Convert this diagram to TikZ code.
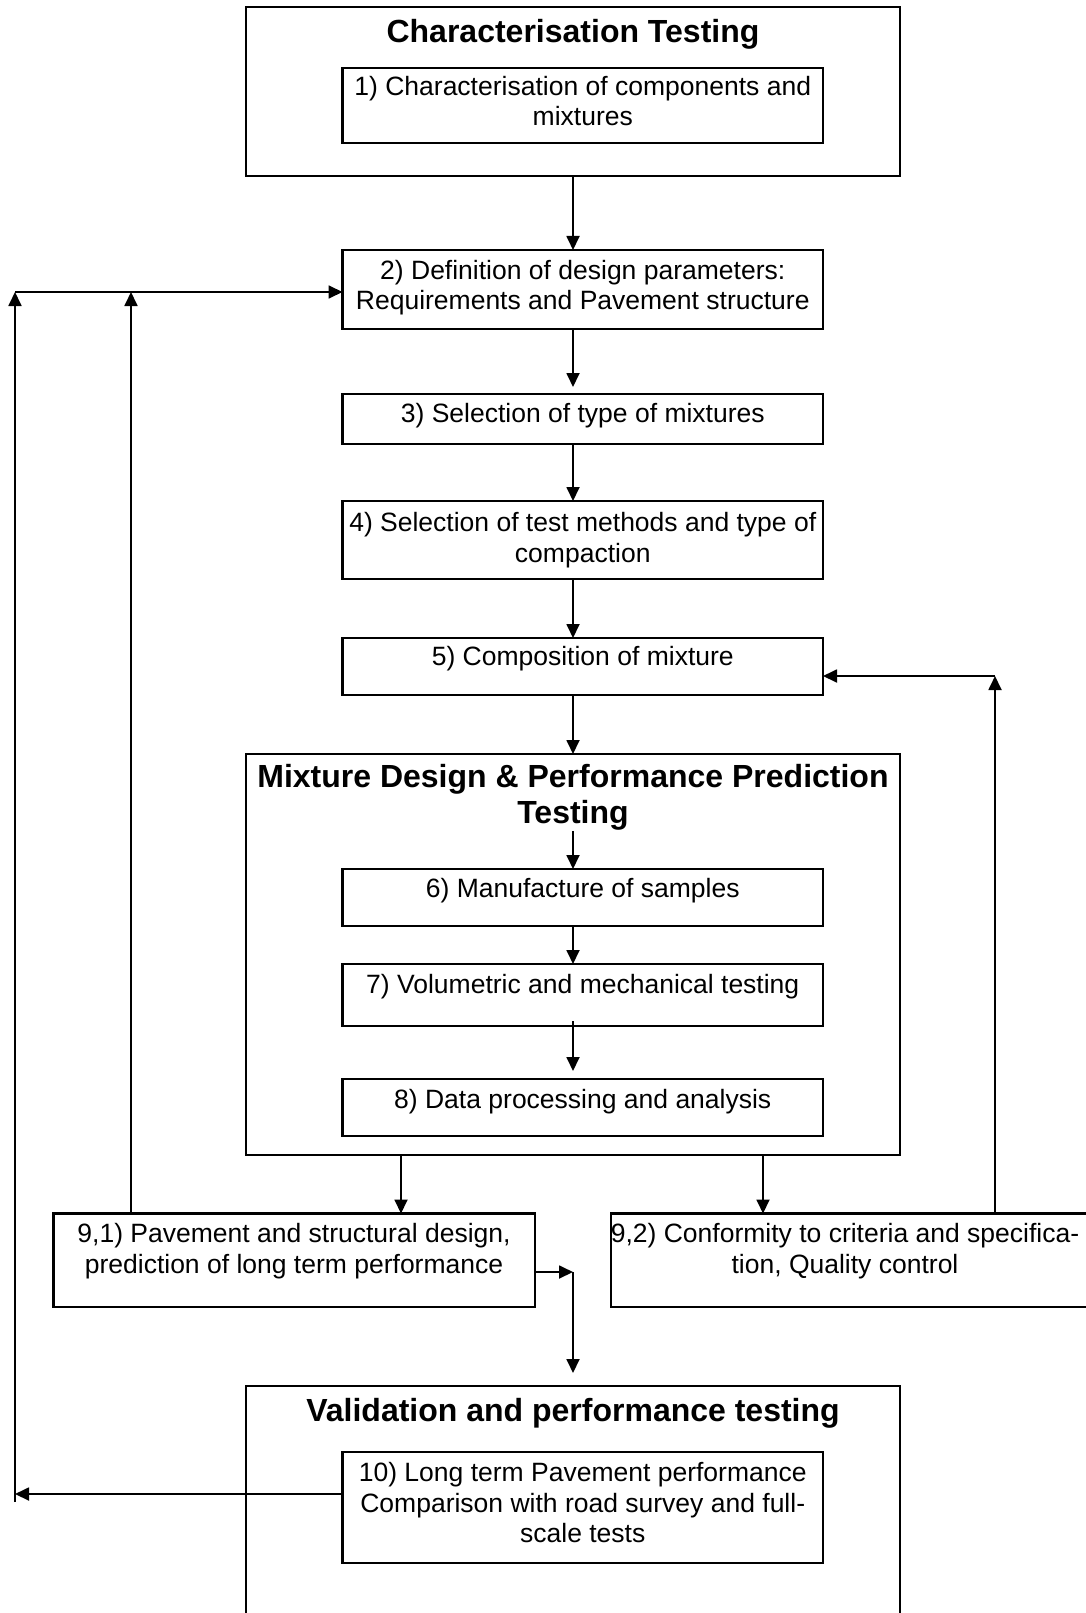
\documentclass[tikz,border=0pt]{standalone}
\usepackage{fontspec}
\setmainfont{Liberation Sans}
\usetikzlibrary{arrows.meta,calc}
\begin{document}
\begin{tikzpicture}[x=1pt,y=-1pt,
  box/.style={draw, line width=2.8pt, rectangle, inner sep=0pt, outer sep=0pt, anchor=north west},
  txt/.style={font=\fontsize{26.5}{30.5}\selectfont, align=center, inner sep=0pt, anchor=north},
  ttl/.style={font=\fontsize{32}{36}\selectfont\bfseries, align=center, inner sep=0pt, anchor=north},
  conn/.style={line width=1.8pt, -{Triangle[length=14pt,width=13pt]}}]
\useasboundingbox (0,0) rectangle (1086,1613);
\clip (0,0) rectangle (1086,1613);

% boxes
\node[box, minimum width=654pt, minimum height=169pt] (A) at (246,7) {};
\node[box, minimum width=480.5pt, minimum height=75pt] (B1) at (342.5,68) {};
\node[box, minimum width=480.5pt, minimum height=79pt] (B2) at (342.5,250) {};
\node[box, minimum width=480.5pt, minimum height=50pt] (B3) at (342.5,394) {};
\node[box, minimum width=480.5pt, minimum height=78pt] (B4) at (342.5,501) {};
\node[box, minimum width=480.5pt, minimum height=57pt] (B5) at (342.5,638) {};
\node[box, minimum width=654pt, minimum height=401pt] (B) at (246,754) {};
\node[box, minimum width=480.5pt, minimum height=57pt] (B6) at (342.5,869) {};
\node[box, minimum width=480.5pt, minimum height=62pt] (B7) at (342.5,964) {};
\node[box, minimum width=480.5pt, minimum height=57pt] (B8) at (342.5,1079) {};
\node[box, minimum width=481.5pt, minimum height=93.5pt] (B91) at (53.5,1213.5) {};
\node[box, minimum width=500pt, minimum height=93.5pt] (B92) at (611,1213.5) {};
\node[box, minimum width=654pt, minimum height=260pt] (C) at (246,1386) {};
\node[box, minimum width=480.5pt, minimum height=111pt] (B10) at (342.5,1452) {};

% texts
\node[ttl] (tA) at (573,19.5) {Characterisation Testing};
\node[txt] (t1) at (582.75,76) {1) Characterisation of components and\\mixtures};
\node[txt] (t2) at (582.75,260) {2) Definition of design parameters:\\Requirements and Pavement structure};
\node[txt] (t3) at (582.75,403.5) {3) Selection of type of mixtures};
\node[txt] (t4) at (582.75,512.5) {4) Selection of test methods and type of\\compaction};
\node[txt] (t5) at (582.75,646.5) {5) Composition of mixture};
\node[ttl] (tB) at (573,764.5) {Mixture Design \& Performance Prediction\\Testing};
\node[txt] (t6) at (582.75,878) {6) Manufacture of samples};
\node[txt] (t7) at (582.75,974.5) {7) Volumetric and mechanical testing};
\node[txt] (t8) at (582.75,1089.5) {8) Data processing and analysis};
\node[txt] (t91) at (294,1223.5) {9,1) Pavement and structural design,\\prediction of long term performance};
\node[txt] (t92) at (845,1223.5) {9,2) Conformity to criteria and specifica-\\tion, Quality control};
\node[ttl] (tC) at (573,1398.5) {Validation and performance testing};
\node[txt] (t10) at (582.75,1462.5) {10) Long term Pavement performance\\Comparison with road survey and full-\\scale tests};

% helper coordinates
\coordinate (cx) at (573,0);
\coordinate (c91) at (401,0);
\coordinate (c92) at (763,0);
\coordinate (j1) at (573,1272);
\coordinate (L1) at (15,292);
\coordinate (L2) at (15,1502);
\coordinate (y10) at (0,1494);
\coordinate (x2) at (131,0);
\coordinate (R1) at (995,676);

% main chain
\draw[conn] (cx |- A.south) -- (cx |- B2.north);
\draw[conn, shorten >=7pt] (cx |- B2.south) -- (cx |- B3.north);
\draw[conn] (cx |- B3.south) -- (cx |- B4.north);
\draw[conn] (cx |- B4.south) -- (cx |- B5.north);
\draw[conn] (cx |- B5.south) -- (cx |- B.north);
\draw[conn] (cx |- tB.south) -- (cx |- B6.north);
\draw[conn] (cx |- B6.south) -- (cx |- B7.north);
\draw[conn, shorten <=-5pt, shorten >=8pt] (cx |- B7.south) -- (cx |- B8.north);
\draw[conn] (c91 |- B.south) -- (c91 |- B91.north);
\draw[conn] (c92 |- B.south) -- (c92 |- B92.north);
\draw[conn] (j1 -| B91.east) -- (j1);
\draw[conn, shorten >=13pt] (j1) -- (j1 |- C.north);

% left feedback
\draw[conn] (y10 -| B10.west) -- (y10 -| L1);
\draw[conn] (L2) -- (L1);
\draw[conn] (L1) -- (L1 -| B2.west);
\draw[conn] (x2 |- B91.north) -- (x2 |- L1);

% right feedback
\draw[conn] (R1 |- B92.north) -- (R1);
\draw[conn] (R1) -- (R1 -| B5.east);
\end{tikzpicture}
\end{document}
